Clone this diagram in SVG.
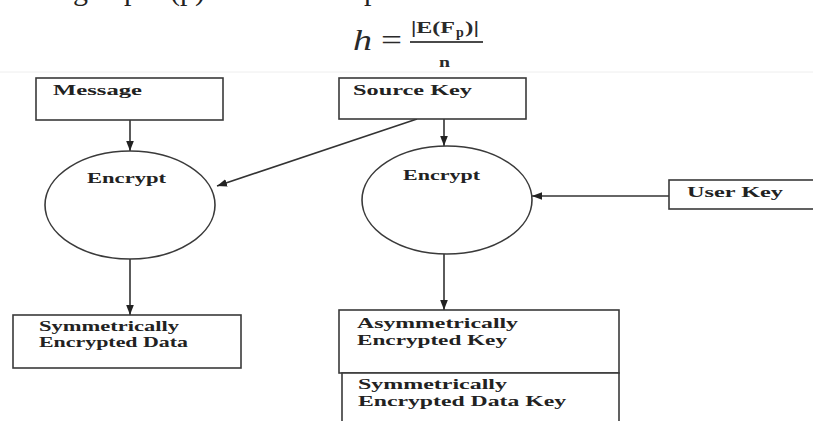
<svg xmlns="http://www.w3.org/2000/svg" width="813" height="421" viewBox="0 0 813 421">
  <style>
    .box { fill: #ffffff; stroke: #3a3a3a; stroke-width: 1.6; }
    .node-shape { fill: #ffffff; stroke: #3a3a3a; stroke-width: 1.6; }
    .lbl { font-family: "Liberation Serif", "Times New Roman", serif; font-weight: bold; font-size: 15px; fill: #222222; }
    .conn { stroke: #333333; stroke-width: 1.6; fill: none; marker-end: url(#arrow); }
    .frag { font-family: "Liberation Serif", "Times New Roman", serif; font-size: 30px; fill: #222222; }
    .math { font-family: "Liberation Serif", "Times New Roman", serif; fill: #2a2a2a; }
  </style>
  <defs>
    <marker id="arrow" markerUnits="userSpaceOnUse" markerWidth="10" markerHeight="10" viewBox="0 0 10 10" refX="10" refY="5" orient="auto">
      <path d="M0,1.2 L10,5 L0,8.8 Z" fill="#222222"/>
    </marker>
  </defs>

  <rect width="813" height="421" fill="#ffffff"/>

  <!-- tail of the preceding text line, cut by the top edge -->
  <g id="prev-line">
    <text class="frag" x="73" y="0">g</text>
    <text class="frag" x="124" y="0">p</text>
    <text class="frag" x="170" y="0">(p)</text>
    <text class="frag" x="364" y="0">p</text>
  </g>

  <!-- formula h = |E(Fp)| / n -->
  <g id="formula">
    <text class="math" x="353" y="50" font-size="30" font-style="italic" textLength="19" lengthAdjust="spacingAndGlyphs">h</text>
    <text class="math" x="381" y="50" font-size="30" textLength="21" lengthAdjust="spacingAndGlyphs">=</text>
    <text class="math" x="411" y="33" font-size="16" font-weight="bold" textLength="44" lengthAdjust="spacingAndGlyphs">|E(F</text>
    <text class="math" x="456" y="37" font-size="14" font-weight="bold">p</text>
    <text class="math" x="465" y="33" font-size="16" font-weight="bold" textLength="14" lengthAdjust="spacingAndGlyphs">)|</text>
    <line x1="410" y1="42" x2="483" y2="42" stroke="#4a4a4a" stroke-width="2"/>
    <text class="math" x="439" y="67" font-size="15" font-weight="bold" textLength="11" lengthAdjust="spacingAndGlyphs">n</text>
  </g>

  <!-- faint page rule above the figure -->
  <line x1="0" y1="72" x2="813" y2="72" stroke="#eeeeee" stroke-width="1"/>

  <g id="connectors">
    <path class="conn" d="M130,120 L130,151"/>
    <path class="conn" d="M417,119 L217,186"/>
    <path class="conn" d="M444,119 L444,146"/>
    <path class="conn" d="M669,196 L532,196"/>
    <path class="conn" d="M130,259 L130,315"/>
    <path class="conn" d="M444,254 L444,310"/>
  </g>

  <g id="message">
    <rect class="box" x="36" y="78" width="187" height="42"/>
    <text class="lbl" x="53" y="95" textLength="89" lengthAdjust="spacingAndGlyphs">Message</text>
  </g>

  <g id="source-key">
    <rect class="box" x="339" y="78" width="187" height="41"/>
    <text class="lbl" x="353" y="95" textLength="119" lengthAdjust="spacingAndGlyphs">Source Key</text>
  </g>

  <g id="encrypt-left">
    <ellipse class="node-shape" cx="130" cy="205" rx="85" ry="54"/>
    <text class="lbl" x="87" y="183" textLength="79" lengthAdjust="spacingAndGlyphs">Encrypt</text>
  </g>

  <g id="encrypt-right">
    <ellipse class="node-shape" cx="447" cy="200" rx="85" ry="54"/>
    <text class="lbl" x="403" y="180" textLength="77" lengthAdjust="spacingAndGlyphs">Encrypt</text>
  </g>

  <g id="user-key">
    <rect class="box" x="669" y="180" width="160" height="29"/>
    <text class="lbl" x="687" y="197" textLength="96" lengthAdjust="spacingAndGlyphs">User Key</text>
  </g>

  <g id="sym-data">
    <rect class="box" x="13" y="315" width="228" height="53"/>
    <text class="lbl" x="39" y="331" textLength="140" lengthAdjust="spacingAndGlyphs">Symmetrically</text>
    <text class="lbl" x="39" y="347" textLength="149" lengthAdjust="spacingAndGlyphs">Encrypted Data</text>
  </g>

  <g id="asym-key">
    <rect class="box" x="339" y="310" width="280" height="63"/>
    <text class="lbl" x="357" y="328" textLength="161" lengthAdjust="spacingAndGlyphs">Asymmetrically</text>
    <text class="lbl" x="357" y="345" textLength="150" lengthAdjust="spacingAndGlyphs">Encrypted Key</text>
  </g>

  <g id="sym-data-key">
    <rect class="box" x="342" y="373" width="277" height="70"/>
    <text class="lbl" x="358" y="389" textLength="149" lengthAdjust="spacingAndGlyphs">Symmetrically</text>
    <text class="lbl" x="358" y="406" textLength="208" lengthAdjust="spacingAndGlyphs">Encrypted Data Key</text>
  </g>
</svg>
